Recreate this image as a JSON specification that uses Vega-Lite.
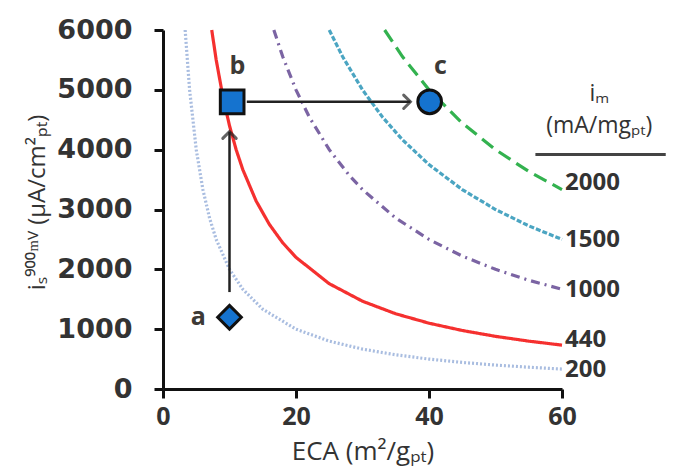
{
  "$schema": "https://vega.github.io/schema/vega-lite/v6.json",
  "width": 399,
  "height": 359,
  "autosize": {"type": "none"},
  "padding": {"left": 163, "top": 30, "right": 111, "bottom": 85},
  "background": "white",
  "config": {
    "view": {"stroke": null},
    "font": "Open Sans",
    "axis": {
      "domainColor": "#111",
      "domainWidth": 3,
      "tickColor": "#111",
      "tickWidth": 3,
      "tickSize": 9,
      "grid": false,
      "labelFont": "Open Sans",
      "labelFontSize": 25,
      "labelFontWeight": "bold",
      "labelColor": "#333",
      "titleFont": "Open Sans",
      "titleFontWeight": "normal",
      "titleColor": "#333"
    }
  },
  "datasets": {
    "curves": [
      {"im": "200", "eca": 3.33, "is": 6000}, {"im": "200", "eca": 4, "is": 5000}, {"im": "200", "eca": 5, "is": 4000}, {"im": "200", "eca": 6, "is": 3333}, {"im": "200", "eca": 7, "is": 2857}, {"im": "200", "eca": 8, "is": 2500}, {"im": "200", "eca": 10, "is": 2000}, {"im": "200", "eca": 12, "is": 1667}, {"im": "200", "eca": 15, "is": 1333}, {"im": "200", "eca": 20, "is": 1000}, {"im": "200", "eca": 25, "is": 800}, {"im": "200", "eca": 30, "is": 667}, {"im": "200", "eca": 35, "is": 571}, {"im": "200", "eca": 40, "is": 500}, {"im": "200", "eca": 45, "is": 444}, {"im": "200", "eca": 50, "is": 400}, {"im": "200", "eca": 55, "is": 364}, {"im": "200", "eca": 60, "is": 333},
      {"im": "440", "eca": 7.33, "is": 6000}, {"im": "440", "eca": 8, "is": 5500}, {"im": "440", "eca": 9, "is": 4889}, {"im": "440", "eca": 10, "is": 4400}, {"im": "440", "eca": 11, "is": 4000}, {"im": "440", "eca": 12, "is": 3667}, {"im": "440", "eca": 14, "is": 3143}, {"im": "440", "eca": 16, "is": 2750}, {"im": "440", "eca": 18, "is": 2444}, {"im": "440", "eca": 20, "is": 2200}, {"im": "440", "eca": 25, "is": 1760}, {"im": "440", "eca": 30, "is": 1467}, {"im": "440", "eca": 35, "is": 1257}, {"im": "440", "eca": 40, "is": 1100}, {"im": "440", "eca": 45, "is": 978}, {"im": "440", "eca": 50, "is": 880}, {"im": "440", "eca": 55, "is": 800}, {"im": "440", "eca": 60, "is": 733},
      {"im": "1000", "eca": 16.67, "is": 6000}, {"im": "1000", "eca": 18, "is": 5556}, {"im": "1000", "eca": 20, "is": 5000}, {"im": "1000", "eca": 22, "is": 4545}, {"im": "1000", "eca": 25, "is": 4000}, {"im": "1000", "eca": 28, "is": 3571}, {"im": "1000", "eca": 30, "is": 3333}, {"im": "1000", "eca": 35, "is": 2857}, {"im": "1000", "eca": 40, "is": 2500}, {"im": "1000", "eca": 45, "is": 2222}, {"im": "1000", "eca": 50, "is": 2000}, {"im": "1000", "eca": 55, "is": 1818}, {"im": "1000", "eca": 60, "is": 1667},
      {"im": "1500", "eca": 25, "is": 6000}, {"im": "1500", "eca": 27, "is": 5556}, {"im": "1500", "eca": 30, "is": 5000}, {"im": "1500", "eca": 33, "is": 4545}, {"im": "1500", "eca": 36, "is": 4167}, {"im": "1500", "eca": 40, "is": 3750}, {"im": "1500", "eca": 45, "is": 3333}, {"im": "1500", "eca": 50, "is": 3000}, {"im": "1500", "eca": 55, "is": 2727}, {"im": "1500", "eca": 60, "is": 2500},
      {"im": "2000", "eca": 33.33, "is": 6000}, {"im": "2000", "eca": 36, "is": 5556}, {"im": "2000", "eca": 40, "is": 5000}, {"im": "2000", "eca": 45, "is": 4444}, {"im": "2000", "eca": 50, "is": 4000}, {"im": "2000", "eca": 55, "is": 3636}, {"im": "2000", "eca": 60, "is": 3333}
    ],
    "arrows": [
      {"dir": "up", "x": 10, "y": 1620, "x2": 10, "y2": 4300},
      {"dir": "right", "x": 12.6, "y": 4800, "x2": 37.2, "y2": 4800}
    ],
    "points": [
      {"name": "a", "eca": 10, "is": 1200, "shape": "diamond"},
      {"name": "b", "eca": 10.4, "is": 4800, "shape": "square"},
      {"name": "c", "eca": 40.1, "is": 4800, "shape": "circle"}
    ],
    "pointLabels": [
      {"label": "a", "eca": 5.3, "is": 1200},
      {"label": "b", "eca": 11.2, "is": 5390},
      {"label": "c", "eca": 41.7, "is": 5390}
    ],
    "curveLabels": [
      {"label": "2000", "eca": 60, "is": 3440},
      {"label": "1500", "eca": 60, "is": 2490},
      {"label": "1000", "eca": 60, "is": 1650},
      {"label": "440", "eca": 60, "is": 820},
      {"label": "200", "eca": 60, "is": 318}
    ],
    "legendTitle": [
      {"label": "iₘ", "eca": 65.6, "is": 4930},
      {"label": "(mA/mgₚₜ)", "eca": 65.6, "is": 4390}
    ],
    "underline": [
      {"x": 56, "x2": 75.6, "y": 3920}
    ]
  },
  "layer": [
    {
      "data": {"name": "curves"},
      "mark": {"type": "line", "strokeWidth": 3.2, "clip": false},
      "encoding": {
        "x": {
          "field": "eca", "type": "quantitative",
          "scale": {"domain": [0, 60], "nice": false},
          "axis": {"values": [0, 20, 40, 60], "title": "ECA (m²/gₚₜ)", "titleFontSize": 26, "titlePadding": 9, "labelPadding": 6, "labelFlush": false}
        },
        "y": {
          "field": "is", "type": "quantitative",
          "scale": {"domain": [0, 6000], "nice": false},
          "axis": {"values": [0, 1000, 2000, 3000, 4000, 5000, 6000], "format": "d", "labelFont": "DejaVu Sans", "labelFontSize": 27, "title": "iₛ⁹⁰⁰ᵐⱽ (μA/cm²ₚₜ)", "titleFontSize": 24, "titleX": -114, "titleY": 172, "labelPadding": 22}
        },
        "detail": {"field": "im"},
        "color": {
          "field": "im", "type": "nominal", "legend": null,
          "scale": {"domain": ["200", "440", "1000", "1500", "2000"], "range": ["#a9bde0", "#f5302f", "#7b64a3", "#4ba5c2", "#33b24f"]}
        },
        "strokeDash": {
          "field": "im", "type": "nominal", "legend": null,
          "scale": {"domain": ["200", "440", "1000", "1500", "2000"], "range": [[2, 2], [1, 0], [9, 5, 2, 5], [5, 2], [14, 7]]}
        },
        "order": {"field": "eca", "type": "quantitative"}
      }
    },
    {
      "data": {"name": "arrows"},
      "mark": {"type": "rule", "color": "#222", "strokeWidth": 2.5},
      "encoding": {
        "x": {"field": "x", "type": "quantitative"},
        "y": {"field": "y", "type": "quantitative"},
        "x2": {"field": "x2"},
        "y2": {"field": "y2"}
      }
    },
    {
      "data": {"name": "arrows"},
      "transform": [{"filter": "datum.dir === 'right'"}],
      "mark": {"type": "point", "shape": "M-1,-1L0,0L-1,1", "filled": false, "stroke": "#222", "strokeWidth": 3, "size": 180, "strokeCap": "round", "strokeJoin": "miter"},
      "encoding": {
        "x": {"field": "x2", "type": "quantitative"},
        "y": {"field": "y2", "type": "quantitative"}
      }
    },
    {
      "data": {"name": "arrows"},
      "transform": [{"filter": "datum.dir === 'up'"}],
      "mark": {"type": "point", "shape": "M-1,1L0,0L1,1", "filled": false, "stroke": "#222", "strokeWidth": 3, "size": 180, "strokeCap": "round", "strokeJoin": "miter"},
      "encoding": {
        "x": {"field": "x2", "type": "quantitative"},
        "y": {"field": "y2", "type": "quantitative"}
      }
    },
    {
      "data": {"name": "points"},
      "mark": {"type": "point", "filled": true, "fill": "#1573cf", "stroke": "#111", "strokeWidth": 3, "size": 560, "opacity": 1},
      "encoding": {
        "x": {"field": "eca", "type": "quantitative"},
        "y": {"field": "is", "type": "quantitative"},
        "shape": {"field": "shape", "type": "nominal", "legend": null, "scale": {"domain": ["diamond", "square", "circle"], "range": ["diamond", "square", "circle"]}}
      }
    },
    {
      "data": {"name": "pointLabels"},
      "mark": {"type": "text", "fontSize": 25, "fontWeight": "bold", "color": "#3d3a36", "align": "center", "baseline": "middle"},
      "encoding": {
        "x": {"field": "eca", "type": "quantitative"},
        "y": {"field": "is", "type": "quantitative"},
        "text": {"field": "label"}
      }
    },
    {
      "data": {"name": "curveLabels"},
      "mark": {"type": "text", "fontSize": 24, "fontWeight": "bold", "color": "#333", "align": "left", "baseline": "middle", "dx": 3},
      "encoding": {
        "x": {"field": "eca", "type": "quantitative"},
        "y": {"field": "is", "type": "quantitative"},
        "text": {"field": "label"}
      }
    },
    {
      "data": {"name": "legendTitle"},
      "mark": {"type": "text", "fontSize": 23, "color": "#333", "align": "center", "baseline": "middle"},
      "encoding": {
        "x": {"field": "eca", "type": "quantitative"},
        "y": {"field": "is", "type": "quantitative"},
        "text": {"field": "label"}
      }
    },
    {
      "data": {"name": "underline"},
      "mark": {"type": "rule", "color": "#444", "strokeWidth": 3},
      "encoding": {
        "x": {"field": "x", "type": "quantitative"},
        "x2": {"field": "x2"},
        "y": {"field": "y", "type": "quantitative"}
      }
    }
  ]
}
